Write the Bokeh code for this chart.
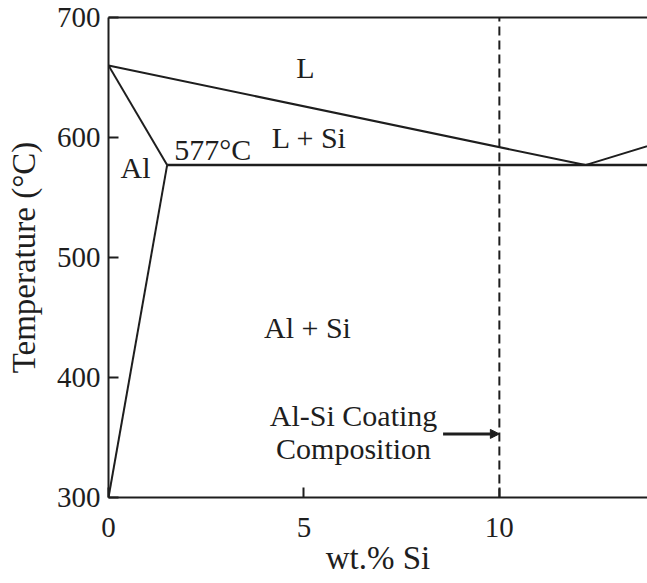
from bokeh.plotting import figure
from bokeh.models import LinearAxis, FixedTicker, Range1d, Arrow, NormalHead, ColumnDataSource
from bokeh.core.properties import value
from bokeh.embed import file_html
from bokeh.resources import INLINE

# ---- data (wt.% Si, temperature in °C) ----
liquidus_x = [0, 12.2, 14.0]
liquidus_T = [660, 577, 595]
solidus_x = [0, 1.5]
solidus_T = [660, 577]
solvus_x = [1.5, 0]
solvus_T = [577, 300]
eutectic_x = [1.5, 14.0]
eutectic_T = [577, 577]
coating_x = [10, 10]
coating_T = [300, 700]

x_ticks = [0, 5, 10]
y_ticks = [300, 400, 500, 600, 700]

labels_text = ["L", "L + Si", "577°C", "Al", "Al + Si", "Al-Si Coating", "Composition"]
labels_x = [5.04, 5.14, 2.67, 0.69, 5.09, 6.27, 6.27]
labels_T = [658, 600, 590, 575, 442, 368, 341]

arrow_x = [8.56, 10.0]
arrow_T = [353, 353]

FONT = "Liberation Serif"
INK = "#1e1e1e"

p = figure(width=647, height=583, x_range=Range1d(0, 13.79), y_range=Range1d(300, 700),
           output_backend="svg", toolbar_location=None,
           min_border_left=108, min_border_right=0, min_border_top=17, min_border_bottom=86)
p.outline_line_color = None
p.grid.grid_line_color = None
p.background_fill_color = "white"
p.border_fill_color = "white"

for ax, ticks in ((p.xaxis[0], x_ticks), (p.yaxis[0], y_ticks)):
    ax.ticker = FixedTicker(ticks=ticks)
    ax.major_tick_in = 10
    ax.major_tick_out = 0
    ax.minor_tick_in = 0
    ax.minor_tick_out = 0
    ax.axis_line_width = 2
    ax.axis_line_color = INK
    ax.major_tick_line_width = 2
    ax.major_tick_line_color = INK
    ax.major_label_text_font = FONT
    ax.major_label_text_font_size = "29px"
    ax.major_label_text_font_style = "normal"
    ax.major_label_text_color = INK
    ax.axis_label_text_font = FONT
    ax.axis_label_text_font_size = "33px"
    ax.axis_label_text_font_style = "normal"
    ax.axis_label_text_color = INK

p.xaxis.axis_label = "wt.% Si"
p.yaxis.axis_label = "Temperature (°C)"
p.xaxis.major_label_standoff = 20
p.xaxis.axis_label_standoff = 0
p.yaxis.major_label_standoff = 8
p.yaxis.axis_label_standoff = 12

top = LinearAxis(ticker=FixedTicker(ticks=[]), axis_line_width=2, axis_line_color=INK,
                 major_tick_in=0, major_tick_out=0, minor_tick_in=0, minor_tick_out=0,
                 major_label_text_font_size="0px")
p.add_layout(top, "above")

lw = 2
p.line(liquidus_x, liquidus_T, line_color=INK, line_width=lw)
p.line(solidus_x, solidus_T, line_color=INK, line_width=lw)
p.line(solvus_x, solvus_T, line_color=INK, line_width=lw)
p.line(eutectic_x, eutectic_T, line_color=INK, line_width=2.5)
p.line(coating_x, coating_T, line_color=INK, line_width=2, line_dash="9 5")

src = ColumnDataSource(dict(x=labels_x, y=labels_T, t=labels_text))
p.text(x="x", y="y", text="t", source=src, text_font=value(FONT), text_font_size="30px",
       text_font_style="normal",
       text_align="center", text_baseline="middle", text_color=INK)

p.add_layout(Arrow(end=NormalHead(size=9, fill_color=INK, line_color=INK),
                   x_start=arrow_x[0], y_start=arrow_T[0], x_end=arrow_x[1], y_end=arrow_T[1],
                   line_width=3, line_color=INK))

open("out.html", "w").write(file_html(p, INLINE))
